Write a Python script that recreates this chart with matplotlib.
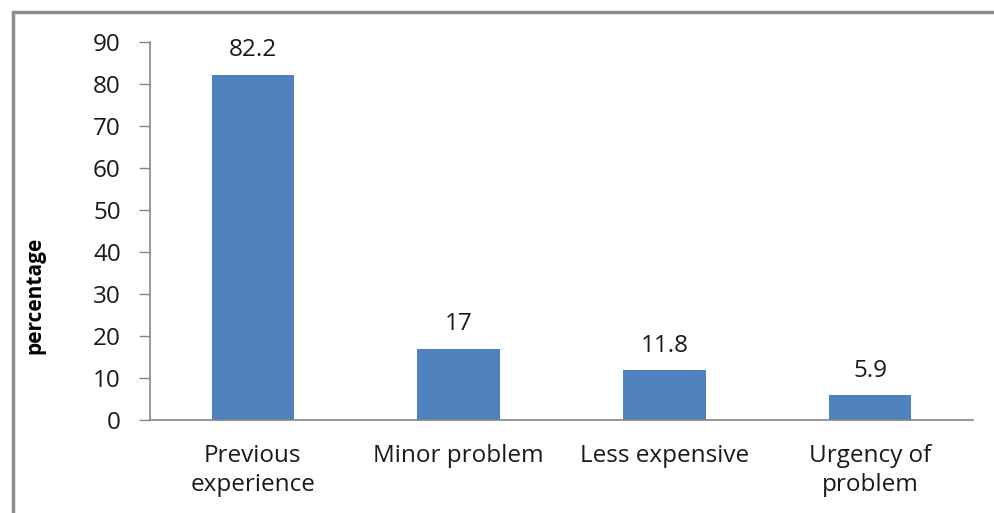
import matplotlib.pyplot as plt
from matplotlib.patches import Rectangle

# Reasons for choice (percentage)
reasons = ['Previous\nexperience', 'Minor problem', 'Less expensive', 'Urgency of\nproblem']
percent = [82.2, 17, 11.8, 5.9]
value_labels = ['82.2', '17', '11.8', '5.9']
yticks = [0, 10, 20, 30, 40, 50, 60, 70, 80, 90]

plt.rcParams['font.family'] = ['Open Sans', 'DejaVu Sans']
txt_col = '#1a1a1a'
fs = 17.5

fig = plt.figure(figsize=(9.95, 5.13), dpi=100)
ax = fig.add_axes([150 / 995, 1 - 420 / 513, 823 / 995, 378 / 513])

x = list(range(len(reasons)))
bars = ax.bar(x, percent, width=0.4, color='#4F81BD', zorder=2)

for b, lab in zip(bars, value_labels):
    ax.text(b.get_x() + b.get_width() / 2, b.get_height() + 3.0, lab,
            ha='center', va='bottom', fontsize=fs, color=txt_col)

ax.set_xlim(-0.5, 3.5)
ax.set_ylim(0, 90)
ax.set_yticks(yticks)
ax.set_xticks(x)
ax.set_xticklabels(reasons, fontsize=fs, color=txt_col, linespacing=1.3)
ax.tick_params(axis='x', length=0, pad=17)
ax.tick_params(axis='y', length=8, width=1, color='#868686', labelsize=fs,
               labelcolor=txt_col, pad=13)

for side in ['top', 'right']:
    ax.spines[side].set_visible(False)
for side in ['left', 'bottom']:
    ax.spines[side].set_color('#868686')
    ax.spines[side].set_linewidth(1.2)

ax.set_ylabel('percentage', fontsize=15, fontweight='bold', color='black')
ax.yaxis.set_label_coords(-105 / 823, 0.33)

# outer frame, cut off at the right and bottom edges
fig.patches.append(Rectangle((13 / 995, -0.1), 1.2, 1 - 12 / 513 + 0.1,
                             transform=fig.transFigure, fill=False,
                             edgecolor='#8c8c8c', linewidth=2.5))

fig.savefig('out.png', dpi=100)
